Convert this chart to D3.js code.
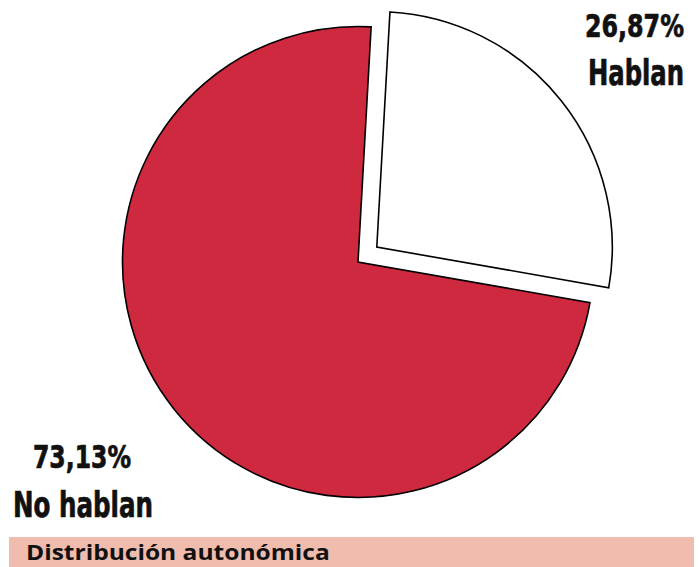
<!DOCTYPE html>
<html>
<head>
<meta charset="utf-8">
<script src="https://cdn.jsdelivr.net/npm/d3@7/dist/d3.min.js"></script>
<style>
  html, body { margin: 0; padding: 0; background: #fff; }
  svg { display: block; }
  .lbl { font-family: "Liberation Sans Narrow", "DejaVu Sans Condensed", "Roboto", sans-serif; font-weight: bold; fill: #111; stroke: #111; stroke-width: 0.7px; stroke-linejoin: round; }
  .band-text { font-family: "Open Sans", "DejaVu Sans", sans-serif; font-weight: bold; fill: #111; }
</style>
</head>
<body>
<svg id="chart" width="699" height="567"></svg>
<script>
// Speakers of the language: share of the population
const categories = ["Hablan", "No hablan"];
const values = [26.87, 73.13];
const valueLabels = ["26,87%", "73,13%"];
const colors = ["#ffffff", "#cf293f"];
const footerTitle = "Distribución autonómica";

const svg = d3.select("#chart");
const cx = 358, cy = 262, radius = 235.5;
const startAngle = 3.2 * Math.PI / 180;
const explode = 24;

const pie = d3.pie()
  .sort(null)
  .value(d => d)
  .startAngle(startAngle)
  .endAngle(startAngle + 2 * Math.PI);

const arcs = pie(values);
const arc = d3.arc().innerRadius(0).outerRadius(radius);

const g = svg.append("g").attr("transform", `translate(${cx},${cy})`);

// Draw the large slice first so the pulled-out slice sits on top
[1, 0].forEach(i => {
  const a = arcs[i];
  const mid = (a.startAngle + a.endAngle) / 2;
  const off = i === 0 ? explode : 0;
  const dx = Math.sin(mid) * off, dy = -Math.cos(mid) * off;
  g.append("path")
    .attr("d", arc(a))
    .attr("transform", `translate(${dx},${dy})`)
    .attr("fill", colors[i])
    .attr("stroke", "#000")
    .attr("stroke-width", 1.6)
    .attr("stroke-linejoin", "miter");
});

// Places a text at (x, y) and squeezes/stretches it horizontally to width w
function fitText(sel, x, y, w) {
  const natural = sel.node().getComputedTextLength();
  const k = natural > 0 ? w / natural : 1;
  sel.attr("x", 0).attr("y", 0)
    .attr("transform", `translate(${x},${y}) scale(${k},1)`);
  return sel;
}

// Slice labels
const labelSpec = [
  { pct: valueLabels[0], name: categories[0], x1: 585, x2: 588, y1: 37, y2: 85, w1: 99, w2: 96 },
  { pct: valueLabels[1], name: categories[1], x1: 33, x2: 13, y1: 468, y2: 517, w1: 98, w2: 140 }
];
labelSpec.forEach(s => {
  fitText(svg.append("text").attr("class", "lbl")
    .style("font-size", "32px").text(s.pct), s.x1, s.y1, s.w1);
  fitText(svg.append("text").attr("class", "lbl")
    .style("font-size", "35px").text(s.name), s.x2, s.y2, s.w2);
});

// Footer band
svg.append("rect")
  .attr("x", 9).attr("y", 537)
  .attr("width", 685).attr("height", 32)
  .attr("fill", "#f0bcae");
fitText(svg.append("text").attr("class", "band-text")
  .style("font-size", "22px").text(footerTitle), 26, 560, 304);
</script>
</body>
</html>
